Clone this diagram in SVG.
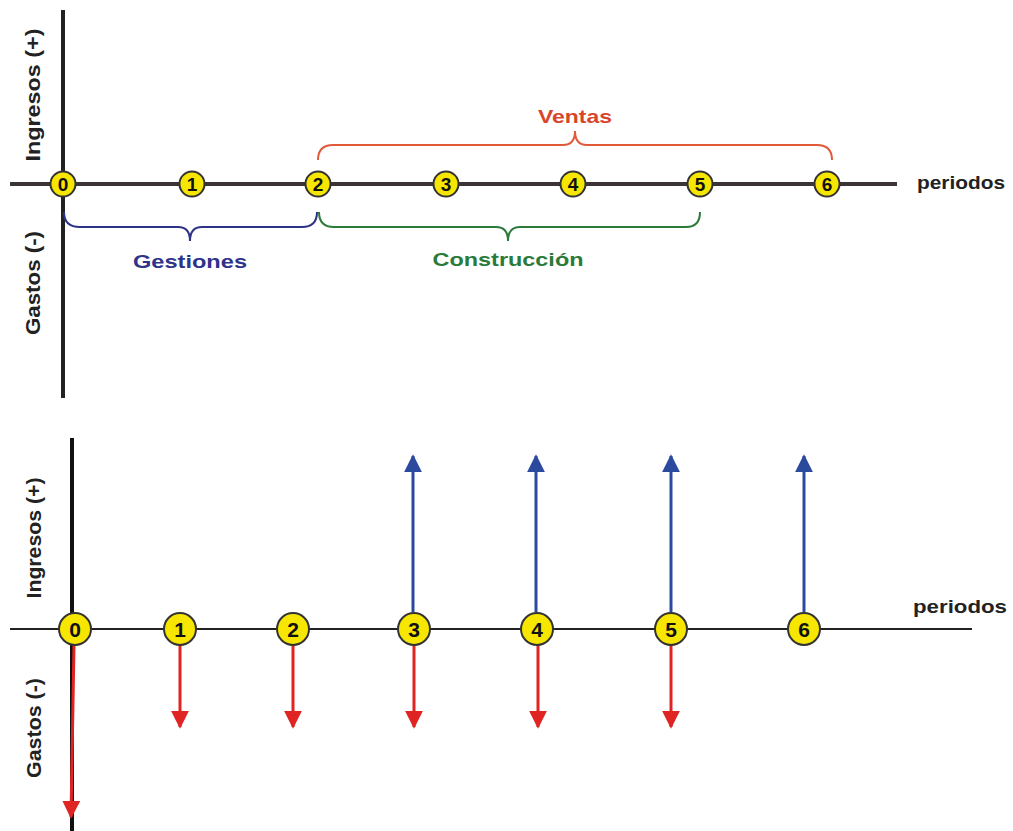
<svg xmlns="http://www.w3.org/2000/svg" width="1013" height="831" viewBox="0 0 1013 831">
<defs>
<style>
.lbl{font-family:"Liberation Sans",Arial,sans-serif;font-weight:bold;}
.ax{font-size:20px;fill:#222;}
.num{font-size:19px;fill:#111;text-anchor:middle;}
.numb{font-size:21px;fill:#111;text-anchor:middle;}
.node{fill:#f7e600;stroke:#333;stroke-width:2;}
.up{stroke:#2b4a9e;stroke-width:3;fill:none;}
.dn{stroke:#e02424;stroke-width:3;fill:none;}
</style>
<marker id="ah-b" viewBox="0 0 10 10" refX="9" refY="5" markerWidth="6" markerHeight="6" markerUnits="strokeWidth" orient="auto"><path d="M0,0 L10,5 L0,10 z" fill="#2b4a9e"/></marker>
<marker id="ah-r" viewBox="0 0 10 10" refX="9" refY="5" markerWidth="6" markerHeight="6" markerUnits="strokeWidth" orient="auto"><path d="M0,0 L10,5 L0,10 z" fill="#e02424"/></marker>
</defs>
<rect width="1013" height="831" fill="#fff"/>

<!-- TOP DIAGRAM -->
<g id="top-axes">
<line x1="63" y1="10" x2="63" y2="398" stroke="#222" stroke-width="4"/>
<line x1="10" y1="184" x2="897" y2="184" stroke="#3a3434" stroke-width="4"/>
<text class="lbl ax" transform="translate(40,95) rotate(-90)" text-anchor="middle" textLength="133" lengthAdjust="spacingAndGlyphs">Ingresos (+)</text>
<text class="lbl ax" transform="translate(40,283) rotate(-90)" text-anchor="middle" textLength="104" lengthAdjust="spacingAndGlyphs">Gastos (-)</text>
<text class="lbl" x="917" y="189" font-size="19" fill="#222" textLength="88" lengthAdjust="spacingAndGlyphs">periodos</text>
</g>

<g id="top-braces" fill="none" stroke-width="2">
<path d="M318,160 Q318,145 333,145 L563,145 Q575,145 575,131 Q575,145 587,145 L817,145 Q832,145 832,160" stroke="#e05a3a"/>
<path d="M64,212 Q64,227 80,227 L178,227 Q190,227 190,241 Q190,227 202,227 L302,227 Q317,227 317,212" stroke="#2e338a"/>
<path d="M319,212 Q319,227 334,227 L496,227 Q508,227 508,241 Q508,227 520,227 L686,227 Q700,227 700,212" stroke="#2a7a3a"/>
</g>
<g id="top-labels">
<text class="lbl" x="575" y="123" font-size="19" fill="#d9452a" text-anchor="middle" textLength="74" lengthAdjust="spacingAndGlyphs">Ventas</text>
<text class="lbl" x="190" y="268" font-size="19" fill="#2e338a" text-anchor="middle" textLength="114" lengthAdjust="spacingAndGlyphs">Gestiones</text>
<text class="lbl" x="508" y="266" font-size="19" fill="#2a7a3a" text-anchor="middle" textLength="151" lengthAdjust="spacingAndGlyphs">Construcción</text>
</g>

<g id="t0"><circle class="node" cx="63" cy="184" r="12.5"/><text class="lbl num" x="63" y="191">0</text></g>
<g id="t1"><circle class="node" cx="192" cy="184" r="12.5"/><text class="lbl num" x="192" y="191">1</text></g>
<g id="t2"><circle class="node" cx="318" cy="184" r="12.5"/><text class="lbl num" x="318" y="191">2</text></g>
<g id="t3"><circle class="node" cx="446" cy="184" r="12.5"/><text class="lbl num" x="446" y="191">3</text></g>
<g id="t4"><circle class="node" cx="573" cy="184" r="12.5"/><text class="lbl num" x="573" y="191">4</text></g>
<g id="t5"><circle class="node" cx="700" cy="184" r="12.5"/><text class="lbl num" x="700" y="191">5</text></g>
<g id="t6"><circle class="node" cx="827" cy="184" r="12.5"/><text class="lbl num" x="827" y="191">6</text></g>

<!-- BOTTOM DIAGRAM -->
<g id="bottom-axes">
<line x1="72" y1="438" x2="72" y2="831" stroke="#111" stroke-width="4"/>
<line x1="10" y1="629" x2="972" y2="629" stroke="#222" stroke-width="2"/>
<text class="lbl ax" transform="translate(41,538) rotate(-90)" text-anchor="middle" textLength="121" lengthAdjust="spacingAndGlyphs">Ingresos (+)</text>
<text class="lbl ax" transform="translate(41,728) rotate(-90)" text-anchor="middle" textLength="100" lengthAdjust="spacingAndGlyphs">Gastos (-)</text>
<text class="lbl" x="913" y="613" font-size="19" fill="#222" textLength="94" lengthAdjust="spacingAndGlyphs">periodos</text>
</g>

<g id="connectors">
<line class="up" x1="413" y1="612" x2="413" y2="456" marker-end="url(#ah-b)"/>
<line class="up" x1="536" y1="612" x2="536" y2="456" marker-end="url(#ah-b)"/>
<line class="up" x1="671" y1="612" x2="671" y2="456" marker-end="url(#ah-b)"/>
<line class="up" x1="804" y1="612" x2="804" y2="456" marker-end="url(#ah-b)"/>
<line class="dn" x1="74" y1="645" x2="71" y2="817" marker-end="url(#ah-r)"/>
<line class="dn" x1="180" y1="645" x2="180" y2="727" marker-end="url(#ah-r)"/>
<line class="dn" x1="293" y1="645" x2="293" y2="727" marker-end="url(#ah-r)"/>
<line class="dn" x1="414" y1="645" x2="414" y2="727" marker-end="url(#ah-r)"/>
<line class="dn" x1="538" y1="645" x2="538" y2="727" marker-end="url(#ah-r)"/>
<line class="dn" x1="671" y1="645" x2="671" y2="727" marker-end="url(#ah-r)"/>
</g>

<g id="b0"><circle class="node" cx="75" cy="629" r="16"/><text class="lbl numb" x="75" y="637">0</text></g>
<g id="b1"><circle class="node" cx="180" cy="629" r="16"/><text class="lbl numb" x="180" y="637">1</text></g>
<g id="b2"><circle class="node" cx="293" cy="629" r="16"/><text class="lbl numb" x="293" y="637">2</text></g>
<g id="b3"><circle class="node" cx="414" cy="629" r="16"/><text class="lbl numb" x="414" y="637">3</text></g>
<g id="b4"><circle class="node" cx="537" cy="629" r="16"/><text class="lbl numb" x="537" y="637">4</text></g>
<g id="b5"><circle class="node" cx="671" cy="629" r="16"/><text class="lbl numb" x="671" y="637">5</text></g>
<g id="b6"><circle class="node" cx="804" cy="629" r="16"/><text class="lbl numb" x="804" y="637">6</text></g>
</svg>
